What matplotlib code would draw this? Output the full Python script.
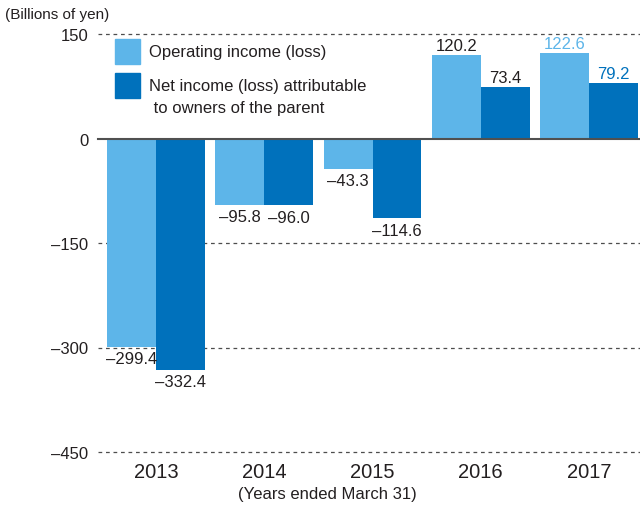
import matplotlib.pyplot as plt
from matplotlib.patches import Rectangle

years = ["2013", "2014", "2015", "2016", "2017"]
operating = [-299.4, -95.8, -43.3, 120.2, 122.6]
net_income = [-332.4, -96.0, -114.6, 73.4, 79.2]
y_ticks = [150, 0, -150, -300, -450]

LIGHT = "#5db5e9"
DARK = "#0071bc"
TEXT = "#231f20"

plt.rcParams["font.family"] = ["Liberation Sans", "DejaVu Sans"]

fig = plt.figure(figsize=(6.4, 5.1), dpi=100)
ax = fig.add_axes([98 / 640, 1 - 453 / 510, 542 / 640, 418 / 510])

w = 0.452
x = list(range(len(years)))
ax.bar([i - w / 2 for i in x], operating, width=w, color=LIGHT, zorder=2)
ax.bar([i + w / 2 for i in x], net_income, width=w, color=DARK, zorder=2)


def fmt(v):
    s = f"{abs(v):.1f}"
    return s if v >= 0 else "\u2013" + s


for i in x:
    for v, dx, c in [(operating[i], -w / 2, LIGHT), (net_income[i], w / 2, DARK)]:
        col = c if years[i] == "2017" else TEXT
        if v >= 0:
            ax.annotate(fmt(v), (i + dx, v), xytext=(0, 1.5), textcoords="offset points",
                        ha="center", va="bottom", fontsize=12, color=col)
        else:
            ax.annotate(fmt(v), (i + dx, v), xytext=(0, -3), textcoords="offset points",
                        ha="center", va="top", fontsize=12, color=col)

# grid lines
for t in y_ticks:
    if t == 0:
        ax.axhline(0, color="#505050", lw=1.5, zorder=3, clip_on=False)
    else:
        ax.axhline(t, color="#4d4d4d", lw=0.9, ls=(0, (3, 3)), zorder=1, clip_on=False)

ax.set_xlim(-0.535, 4.47)
ax.set_ylim(-450, 150)
ax.set_yticks(y_ticks)
ax.set_yticklabels([fmt(t).replace(".0", "") for t in y_ticks], fontsize=12, color=TEXT)
ax.set_xticks(x)
ax.set_xticklabels(years, fontsize=14.5, color=TEXT)
ax.tick_params(axis="both", length=0)
ax.tick_params(axis="y", pad=7)
ax.tick_params(axis="x", pad=7)
for s in ax.spines.values():
    s.set_visible(False)

# legend
ax.add_patch(Rectangle((17 / 542, 1 - 30 / 418), 25 / 542, 25 / 418,
                       transform=ax.transAxes, color=LIGHT, clip_on=False))
ax.add_patch(Rectangle((17 / 542, 1 - 64 / 418), 25 / 542, 25 / 418,
                       transform=ax.transAxes, color=DARK, clip_on=False))
ax.text(51 / 542, 1 - 18 / 418, "Operating income (loss)", transform=ax.transAxes,
        va="center", fontsize=12, color=TEXT)
ax.text(51 / 542, 1 - 51 / 418, "Net income (loss) attributable", transform=ax.transAxes,
        va="center", fontsize=12, color=TEXT)
ax.text(51 / 542, 1 - 73 / 418, " to owners of the parent", transform=ax.transAxes,
        va="center", fontsize=12, color=TEXT)

fig.text(5 / 640, 1 - 15 / 510, "(Billions of yen)", fontsize=11, color=TEXT, va="center")
fig.text(327 / 640, 1 - 495 / 510, "(Years ended March 31)", fontsize=12, color=TEXT,
         ha="center", va="center")

fig.savefig("out.png", dpi=100)
